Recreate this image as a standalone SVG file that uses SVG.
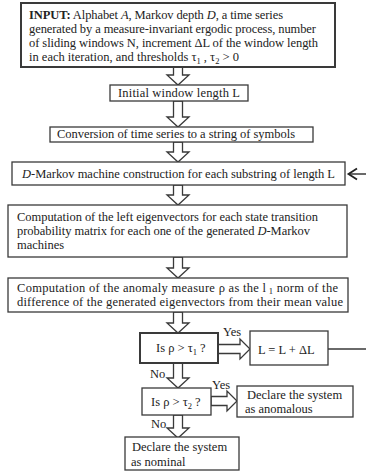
<svg xmlns="http://www.w3.org/2000/svg" width="366" height="471" viewBox="0 0 366 471">
<style>
.box{fill:#fff;stroke:#3a3a3a;stroke-width:1.3}
.bold{stroke-width:2}
.t{font-family:"Liberation Serif","Times New Roman",serif;font-size:12.5px;fill:#222}
.s{font-size:8.5px}
.ha{fill:#fff;stroke:#3a3a3a;stroke-width:1.3;stroke-linejoin:miter}
.ln{fill:none;stroke:#3a3a3a;stroke-width:1.5}
.head{fill:none;stroke:#222;stroke-width:1.8;stroke-linejoin:miter}
</style>
<g id="connectors">
<path class="ha" d="M173.5,67 H182.5 V75 H189 L178,85 L167,75 H173.5 Z"/>
<path class="ha" d="M173.5,101 H182.5 V117 H189 L178,127 L167,117 H173.5 Z"/>
<path class="ha" d="M173.5,142 H182.5 V152 H189 L178,162 L167,152 H173.5 Z"/>
<path class="ha" d="M173.5,185 H182.5 V195 H189 L178,205 L167,195 H173.5 Z"/>
<path class="ha" d="M173.5,257 H182.5 V268 H189 L178,278 L167,268 H173.5 Z"/>
<path class="ha" d="M173.5,312 H182.5 V323 H189 L178,333 L167,323 H173.5 Z"/>
<path class="ha" d="M173.5,363 H182.5 V378 H189 L178,388 L167,378 H173.5 Z"/>
<path class="ha" d="M173.5,415 H182.5 V428 H189 L178,438 L167,428 H173.5 Z"/>
<path class="ha" d="M218,344.5 V353.5 H240 V359 L250,349 L240,339 V344.5 Z"/>
<path class="ha" d="M211,396.5 V405.5 H227 V411 L237,401 L227,391 V396.5 Z"/>
<path class="ln" d="M328,349 H370 V174 H349"/>
<path class="head" d="M357,168.5 L348.5,174 L357,179.5"/>
<text class="t" x="223" y="336" font-size="12">Yes</text>
<text class="t" x="212" y="389" font-size="12">Yes</text>
<text class="t" x="150" y="378" font-size="12">No</text>
<text class="t" x="151" y="428" font-size="12">No</text>
</g>
<g id="input">
<rect class="box bold" x="21" y="3" width="314" height="64"/>
<text class="t" x="29" y="19" textLength="254"><tspan font-weight="bold">INPUT:</tspan> Alphabet <tspan font-style="italic">A</tspan>, Markov depth <tspan font-style="italic">D</tspan>, a time series</text>
<text class="t" x="29" y="33" textLength="287">generated by a measure-invariant ergodic process, number</text>
<text class="t" x="29" y="47" textLength="289">of sliding windows N, increment ΔL  of the window length</text>
<text class="t" x="29" y="61">in each iteration, and thresholds τ<tspan class="s" dy="3">1</tspan><tspan dy="-3"> , τ</tspan><tspan class="s" dy="3">2</tspan><tspan dy="-3"> &gt; 0</tspan></text>
</g>
<g id="initial">
<rect class="box" x="110" y="85" width="138" height="16"/>
<text class="t" x="118" y="97" textLength="122">Initial window length L</text>
</g>
<g id="conversion">
<rect class="box" x="50" y="127" width="263" height="15"/>
<text class="t" x="57" y="138" textLength="238">Conversion of time series to a string of symbols</text>
</g>
<g id="dmarkov">
<rect class="box" x="12" y="162" width="333" height="23"/>
<text class="t" x="22" y="178" textLength="313"><tspan font-style="italic">D</tspan>-Markov machine construction for each substring of length L</text>
</g>
<g id="eigen">
<rect class="box" x="8" y="205" width="339" height="52"/>
<text class="t" x="17" y="221" textLength="301">Computation of the left eigenvectors for each  state transition</text>
<text class="t" x="17" y="235" textLength="293">probability matrix for each one of the generated   <tspan font-style="italic">D</tspan>-Markov</text>
<text class="t" x="17" y="249">machines</text>
</g>
<g id="anomaly">
<rect class="box" x="8" y="278" width="340" height="34"/>
<text class="t" x="17" y="292" textLength="321">Computation of  the anomaly measure ρ as the l<tspan class="s" dy="2"> 1</tspan><tspan dy="-2"> norm of the</tspan></text>
<text class="t" x="17" y="306" textLength="326">difference of the generated eigenvectors from their mean value</text>
</g>
<g id="test1">
<rect class="box bold" x="140" y="333" width="78" height="30"/>
<text class="t" x="156" y="352">Is ρ &gt; τ<tspan class="s" dy="3">1</tspan><tspan dy="-3"> ?</tspan></text>
</g>
<g id="update">
<rect class="box" x="250" y="331" width="78" height="34"/>
<text class="t" x="258" y="354">L = L + ΔL</text>
</g>
<g id="test2">
<rect class="box" x="142" y="388" width="69" height="27"/>
<text class="t" x="151" y="406">Is ρ &gt; τ<tspan class="s" dy="3">2</tspan><tspan dy="-3"> ?</tspan></text>
</g>
<g id="anomalous">
<rect class="box" x="237" y="386" width="116" height="31"/>
<text class="t" x="247" y="399">Declare the system</text>
<text class="t" x="245" y="413">as anomalous</text>
</g>
<g id="nominal">
<rect class="box" x="125" y="437" width="114" height="33"/>
<text class="t" x="132" y="451">Declare the system</text>
<text class="t" x="131" y="466">as nominal</text>
</g>
</svg>
